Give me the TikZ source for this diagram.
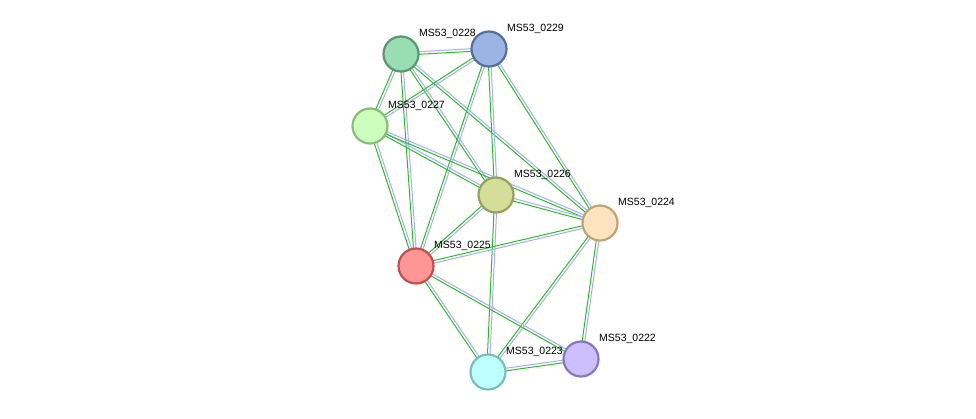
\documentclass[tikz,border=0pt]{standalone}
\usepackage{fontspec}
\setmainfont{Liberation Sans}
\usetikzlibrary{calc}
\begin{document}
\begin{tikzpicture}[x=1pt,y=-1pt,
  nd/.style={circle,minimum size=35pt,inner sep=0pt,line width=2.2pt},
  lb/.style={anchor=south west,font=\fontsize{10.5}{12}\selectfont,inner sep=0pt},
  eg/.style={draw={rgb,255:red,40;green,190;blue,40},line width=1pt},
  eb/.style={draw={rgb,255:red,170;green,170;blue,255},line width=1pt}]
\useasboundingbox (0,0) rectangle (976,418);
\coordinate (p28) at (401,54);
\coordinate (p29) at (489,49);
\coordinate (p27) at (370,126);
\coordinate (p26) at (496,195);
\coordinate (p24) at (600,223);
\coordinate (p25) at (416,266);
\coordinate (p23) at (488,372);
\coordinate (p22) at (581,359);
\newcommand{\edg}[2]{%
  \draw[eb] ($(#1)!1.3pt!90:(#2)$) -- ($(#2)!1.3pt!-90:(#1)$);
  \draw[eg] ($(#1)!1.3pt!-90:(#2)$) -- ($(#2)!1.3pt!90:(#1)$);}
\foreach \a/\b in {p28/p29,p28/p27,p28/p26,p28/p24,p28/p25,p29/p27,p29/p26,p29/p24,p29/p25,
  p27/p26,p27/p24,p27/p25,p26/p24,p26/p25,p26/p23,p24/p25,p24/p23,p24/p22,p25/p23,p25/p22,p23/p22}
  {\edg{\a}{\b}}
\node[lb] (l28) at (419,39) {MS53\_0228};
\node[lb] (l29) at (507,34) {MS53\_0229};
\node[lb] (l27) at (388,111) {MS53\_0227};
\node[lb] (l26) at (514,180) {MS53\_0226};
\node[lb] (l24) at (618,208) {MS53\_0224};
\node[lb] (l25) at (434,251) {MS53\_0225};
\node[lb] (l23) at (506,357) {MS53\_0223};
\node[lb] (l22) at (599,344) {MS53\_0222};
\node[nd,fill={rgb,255:red,153;green,221;blue,178},draw={rgb,255:red,90;green,150;blue,110}] (n28) at (p28) {};
\node[nd,fill={rgb,255:red,155;green,180;blue,225},draw={rgb,255:red,85;green,110;blue,160}] (n29) at (p29) {};
\node[nd,fill={rgb,255:red,204;green,255;blue,190},draw={rgb,255:red,135;green,190;blue,120}] (n27) at (p27) {};
\node[nd,fill={rgb,255:red,212;green,222;blue,153},draw={rgb,255:red,150;green,160;blue,95}] (n26) at (p26) {};
\node[nd,fill={rgb,255:red,255;green,226;blue,190},draw={rgb,255:red,190;green,165;blue,120}] (n24) at (p24) {};
\node[nd,fill={rgb,255:red,255;green,150;blue,150},draw={rgb,255:red,190;green,80;blue,80}] (n25) at (p25) {};
\node[nd,fill={rgb,255:red,190;green,255;blue,255},draw={rgb,255:red,120;green,190;blue,190}] (n23) at (p23) {};
\node[nd,fill={rgb,255:red,204;green,190;blue,255},draw={rgb,255:red,135;green,120;blue,190}] (n22) at (p22) {};
\end{tikzpicture}
\end{document}
